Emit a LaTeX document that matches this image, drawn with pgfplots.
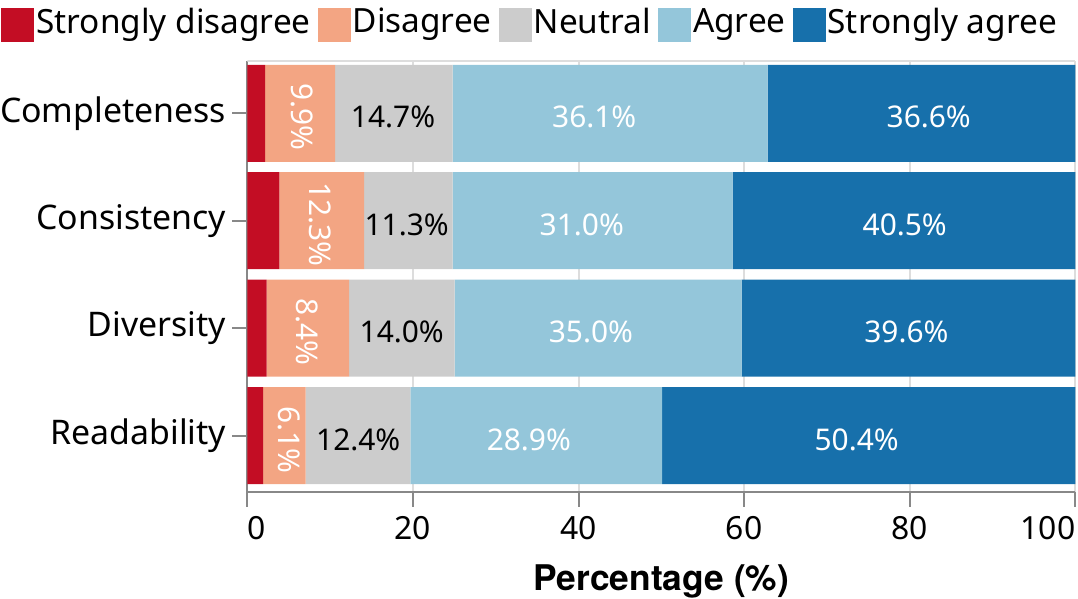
\documentclass[border=0pt]{standalone}
\usepackage{fontspec}
\setmainfont{Noto Sans}
\newfontfamily\herosbold{texgyreheros-bold.otf}
\usepackage{pgfplots}
\pgfplotsset{compat=1.18}
\definecolor{cSD}{HTML}{C30D24}
\definecolor{cD}{HTML}{F3A583}
\definecolor{cN}{HTML}{CCCCCC}
\definecolor{cA}{HTML}{94C6DA}
\definecolor{cSA}{HTML}{1770AB}
\definecolor{axisgray}{HTML}{888888}
\definecolor{gridgray}{HTML}{DDDDDD}

% segment widths (Completeness at y=3, Readability at y=0)
\pgfplotsset{
  common/.style={
    width=828bp, height=430.7bp, scale only axis,
    xmin=0, xmax=100, ymin=-0.523, ymax=3.487,
  },
  lbl/.style={
    draw=none, mark=none, nodes near coords, point meta=explicit symbolic,
    every node near coord/.style={anchor=center, inner sep=0pt,
      font=\fontsize{30}{36}\selectfont, text=#1, yshift=-4bp},
  },
}

\begin{document}
\begin{tikzpicture}
\begin{axis}[common,
  xbar stacked, bar width=97bp, bar shift=0pt,
  axis lines*=left,
  axis line style={axisgray, line width=2bp},
  tick style={axisgray, line width=2bp},
  tick align=outside, major tick length=15bp,
  xtick={0,20,...,100},
  xticklabels={\makebox[0pt][l]{0},20,40,60,80,\makebox[0pt][r]{100}},
  ytick={0,1,2,3},
  yticklabels={Readability,Diversity,Consistency,Completeness},
  xmajorgrids, grid style={gridgray, line width=2bp},
  xticklabel style={font=\fontsize{32}{38}\selectfont, inner sep=3bp, yshift=-6bp},
  yticklabel style={font=\fontsize{34}{40}\selectfont, inner sep=3bp, xshift=-3bp},
  xlabel={Percentage (\%)},
  xlabel style={font=\fontsize{35.5}{42}\herosbold,
    at={(axis description cs:0.5,0)}, anchor=base, yshift=-98.3bp},
  legend columns=-1,
  legend style={at={(0,1)}, anchor=north west, xshift=-246bp, yshift=55.2bp,
    draw=none, fill=none, inner sep=0pt,
    font=\fontsize{33.5}{40}\selectfont,
    nodes={inner sep=2bp},
    /tikz/every even column/.append style={column sep=5bp}},
  legend image code/.code={\fill[#1] (0bp,-20.4bp) rectangle (33bp,13.6bp);},
]
\addplot[fill=cSD, draw=none] coordinates {(1.90,0) (2.34,1) (3.86,2) (2.14,3)};
\addlegendentry{Strongly disagree}
\addplot[fill=cD, draw=none] coordinates {(5.15,0) (9.96,1) (10.24,2) (8.46,3)};
\addlegendentry{Disagree}
\addplot[fill=cN, draw=none] coordinates {(12.65,0) (12.75,1) (10.70,2) (14.20,3)};
\addlegendentry{Neutral}
\addplot[fill=cA, draw=none] coordinates {(30.40,0) (34.65,1) (33.80,2) (38.05,3)};
\addlegendentry{Agree}
\addplot[fill=cSA, draw=none] coordinates {(49.90,0) (40.30,1) (41.40,2) (37.15,3)};
\addlegendentry{Strongly agree}
\draw[gridgray, line width=2bp] (rel axis cs:0,1) -- (rel axis cs:1,1);
\end{axis}

\begin{axis}[common, hide axis]
\addplot[lbl=white, every node near coord/.append style={rotate=-90, yshift=4bp}]
  coordinates {(6.1,3) [9.9\%] (8.3,2) [12.3\%] (6.8,1) [8.4\%] (4.55,0) [6.1\%]};
\addplot[lbl=black]
  coordinates {(17.6,3) [14.7\%] (19.25,2) [11.3\%] (18.65,1) [14.0\%] (13.4,0) [12.4\%]};
\addplot[lbl=white]
  coordinates {(41.9,3) [36.1\%] (40.4,2) [31.0\%] (41.5,1) [35.0\%] (34.0,0) [28.9\%]};
\addplot[lbl=white]
  coordinates {(82.3,3) [36.6\%] (79.4,2) [40.5\%] (79.6,1) [39.6\%] (73.6,0) [50.4\%]};
\end{axis}
\pgfresetboundingbox
\path (-247.3bp,-107.3bp) rectangle (830.7bp,491.7bp);
\end{tikzpicture}
\end{document}
